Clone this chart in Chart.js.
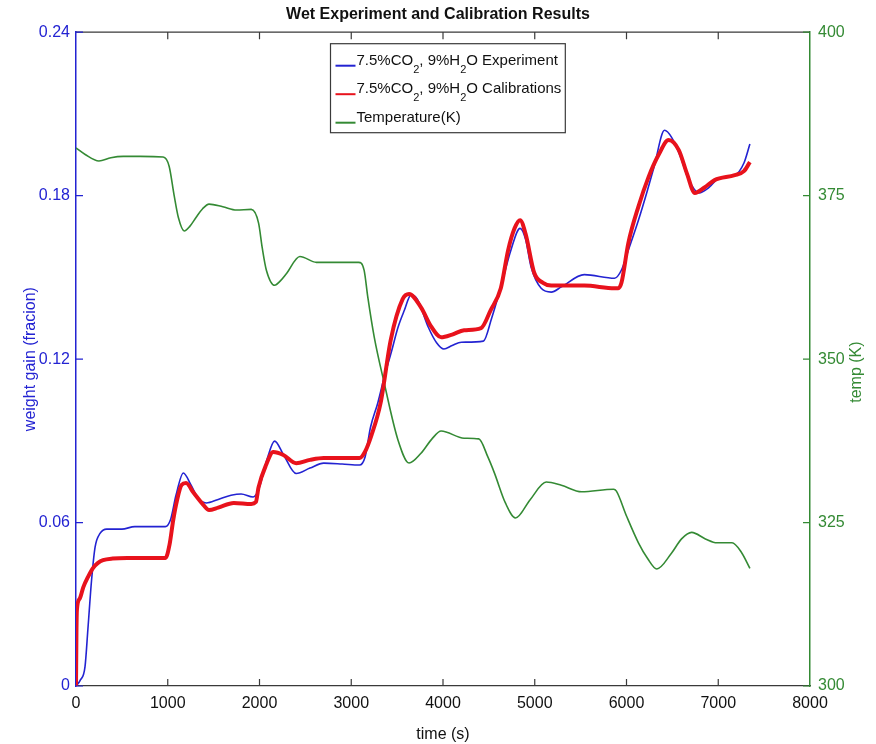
<!DOCTYPE html>
<html>
<head>
<meta charset="utf-8">
<script src="https://cdn.jsdelivr.net/npm/chart.js@4.4.1/dist/chart.umd.min.js"></script>
<style>
  body { margin: 0; background: #fff; }
  #wrap { width: 876px; height: 744px; }
</style>
</head>
<body>
<div id="wrap"><canvas id="chart" width="876" height="744"></canvas></div>
<script>
// weight gain, experiment (blue)
const expTime = [0,44,98,130,170,208,262,335,500,640,800,973,1030,1090,1170,1250,1330,1420,1550,1690,1800,1930,1990,2080,2165,2260,2400,2550,2700,2900,3090,3150,3210,3290,3360,3440,3510,3580,3650,3720,3840,3930,4010,4100,4200,4440,4530,4630,4740,4840,4900,4960,5070,5180,5290,5540,5870,5945,6020,6130,6220,6300,6415,6490,6580,6680,6790,6900,7005,7180,7280,7345];
const expGain = [0,0.002,0.007,0.021,0.039,0.051,0.056,0.0576,0.0576,0.0585,0.0585,0.0585,0.061,0.070,0.0782,0.074,0.069,0.0672,0.0685,0.070,0.0705,0.0694,0.072,0.083,0.0899,0.085,0.078,0.080,0.0818,0.0815,0.0811,0.084,0.095,0.104,0.1134,0.123,0.1317,0.138,0.1435,0.142,0.1317,0.126,0.1237,0.125,0.1262,0.1266,0.135,0.1464,0.160,0.168,0.164,0.1538,0.146,0.1446,0.1465,0.151,0.1497,0.1527,0.160,0.171,0.181,0.1905,0.204,0.2015,0.195,0.1857,0.181,0.183,0.1864,0.1875,0.192,0.199];

// weight gain, calibrations (red)
const calTime = [0,5,10,40,80,130,185,240,295,400,560,800,975,1020,1060,1100,1150,1200,1280,1390,1450,1550,1720,1910,1960,1990,2070,2150,2260,2400,2550,2700,3090,3150,3220,3320,3430,3560,3630,3760,3870,3980,4100,4230,4415,4520,4630,4710,4780,4840,4900,4995,5090,5180,5290,5540,5870,5910,5945,6020,6130,6240,6350,6460,6570,6660,6745,6850,6960,7180,7280,7345];
const calGain = [0,0.020,0.028,0.032,0.0363,0.040,0.0433,0.0452,0.0462,0.0468,0.047,0.047,0.047,0.052,0.061,0.068,0.0738,0.0745,0.071,0.0664,0.0646,0.0655,0.0672,0.0668,0.0675,0.073,0.081,0.0859,0.0848,0.0818,0.083,0.0837,0.0837,0.086,0.092,0.1039,0.127,0.142,0.1439,0.139,0.132,0.128,0.129,0.1306,0.1314,0.138,0.146,0.160,0.168,0.171,0.166,0.1516,0.148,0.147,0.147,0.147,0.146,0.146,0.148,0.1626,0.176,0.1868,0.195,0.2004,0.1967,0.188,0.181,0.183,0.1857,0.1875,0.189,0.1923];

// temperature (green)
const tempTime = [0,100,250,380,515,700,950,1015,1070,1115,1180,1240,1310,1380,1450,1600,1750,1910,1990,2030,2075,2165,2230,2295,2440,2620,2810,3080,3140,3180,3250,3360,3510,3630,3760,3880,3980,4230,4390,4490,4560,4680,4790,4950,5125,5290,5510,5860,5890,6000,6130,6230,6330,6490,6600,6710,6860,6985,7150,7250,7345];
const tempK = [382.3,381.3,380.3,380.8,381.0,381.0,380.9,379.5,375.0,371.7,369.6,370.3,371.7,373.0,373.7,373.3,372.8,372.9,370.8,367,363.6,361.3,362,363.1,365.7,364.8,364.8,364.8,363.6,359.5,353.4,346.3,337.6,334.1,335.6,337.8,339.0,337.9,337.8,335,332.6,328,325.7,328.5,331.2,330.7,329.7,330.1,329.8,326,321.9,319.5,317.9,320.3,322.5,323.5,322.5,321.9,321.9,320.5,318.0];

const timeTicks = [0,1000,2000,3000,4000,5000,6000,7000,8000];
const gainTicks = [0, 0.06, 0.12, 0.18, 0.24];
const gainTickLabels = ['0', '0.06', '0.12', '0.18', '0.24'];
const tempTicks = [300, 325, 350, 375, 400];
const tempTitle = 'temp (K)';

const BLUE = '#2323d2';
const RED = '#e8121c';
const GREEN = '#348a34';
const FONT = '"Liberation Sans", Arial, sans-serif';

function pts(xs, ys) {
    return xs.map((x, i) => ({ x: x, y: ys[i] }));
}

// split "CO_2" style labels into normal / subscript parts
function splitSub(label) {
    const parts = [];
    label.split(/_(\d)/).forEach((t, i) => {
        if (t !== '') parts.push({ t: t, sub: i % 2 === 1 });
    });
    return parts;
}

// MATLAB style ticks pointing into the plot, plus the top frame line
const inwardTicks = {
    id: 'inwardTicks',
    afterDraw(chart) {
        const { ctx, chartArea: a, scales } = chart;
        const len = 7;
        ctx.save();
        ctx.lineWidth = 1.2;
        ctx.strokeStyle = '#3a3a3a';
        ctx.beginPath();
        ctx.moveTo(a.left, a.top);
        ctx.lineTo(a.right, a.top);
        scales.x.ticks.forEach(t => {
            const px = scales.x.getPixelForValue(t.value);
            if (px <= a.left + 1 || px >= a.right - 1) return;
            ctx.moveTo(px, a.bottom); ctx.lineTo(px, a.bottom - len);
            ctx.moveTo(px, a.top); ctx.lineTo(px, a.top + len);
        });
        ctx.stroke();
        ctx.strokeStyle = BLUE;
        ctx.beginPath();
        scales.y.ticks.forEach(t => {
            const py = scales.y.getPixelForValue(t.value);
            ctx.moveTo(a.left, py); ctx.lineTo(a.left + len, py);
        });
        ctx.stroke();
        ctx.strokeStyle = GREEN;
        ctx.beginPath();
        scales.y1.ticks.forEach(t => {
            const py = scales.y1.getPixelForValue(t.value);
            ctx.moveTo(a.right, py); ctx.lineTo(a.right - len, py);
        });
        ctx.stroke();

        // right axis title reads bottom-to-top, like the left one
        ctx.translate(857, (a.top + a.bottom) / 2 + 13);
        ctx.rotate(-Math.PI / 2);
        ctx.fillStyle = GREEN;
        ctx.font = '16px ' + FONT;
        ctx.textAlign = 'center';
        ctx.textBaseline = 'middle';
        ctx.fillText(tempTitle, 0, 0);
        ctx.restore();
    }
};

// boxed legend inside the plot, with subscripts
const boxLegend = {
    id: 'boxLegend',
    afterDraw(chart) {
        const { ctx, chartArea: a } = chart;
        const big = '15px ' + FONT;
        const small = '11px ' + FONT;
        const rows = chart.data.datasets.map(ds => ({ parts: splitSub(ds.label), color: ds.borderColor }));
        ctx.save();
        let maxW = 0;
        rows.forEach(r => {
            let w = 0;
            r.parts.forEach(p => { ctx.font = p.sub ? small : big; w += ctx.measureText(p.t).width; });
            r.w = w;
            maxW = Math.max(maxW, w);
        });
        const boxW = maxW + 30;
        const boxH = 89;
        const left = Math.round((a.left + a.right) / 2 - boxW / 2 + 4) + 0.5;
        const top = a.top + 11.5;
        ctx.fillStyle = '#fff';
        ctx.fillRect(left, top, boxW, boxH);
        ctx.strokeStyle = '#3a3a3a';
        ctx.lineWidth = 1.2;
        ctx.strokeRect(left, top, boxW, boxH);
        rows.forEach((r, i) => {
            const cy = top + 17 + i * 28.5;
            ctx.strokeStyle = r.color;
            ctx.lineWidth = 2;
            ctx.beginPath();
            ctx.moveTo(left + 5, cy + 5);
            ctx.lineTo(left + 25, cy + 5);
            ctx.stroke();
            let x = left + 26;
            ctx.fillStyle = '#111';
            ctx.textBaseline = 'middle';
            r.parts.forEach(p => {
                ctx.font = p.sub ? small : big;
                ctx.fillText(p.t, x, p.sub ? cy + 9 : cy);
                x += ctx.measureText(p.t).width;
            });
        });
        ctx.restore();
    }
};

new Chart(document.getElementById('chart'), {
    type: 'line',
    data: {
        datasets: [
            {
                label: '7.5%CO_2, 9%H_2O Experiment',
                data: pts(expTime, expGain),
                yAxisID: 'y',
                borderColor: BLUE,
                borderWidth: 1.6,
                order: 1
            },
            {
                label: '7.5%CO_2, 9%H_2O Calibrations',
                data: pts(calTime, calGain),
                yAxisID: 'y',
                borderColor: RED,
                borderWidth: 4,
                order: 0
            },
            {
                label: 'Temperature(K)',
                data: pts(tempTime, tempK),
                yAxisID: 'y1',
                borderColor: GREEN,
                borderWidth: 1.6,
                order: 2
            }
        ]
    },
    options: {
        responsive: false,
        animation: false,
        elements: {
            point: { radius: 0 },
            line: { cubicInterpolationMode: 'monotone', fill: false }
        },
        layout: { padding: 0 },
        plugins: {
            legend: { display: false },
            tooltip: { enabled: false },
            title: {
                display: true,
                text: 'Wet Experiment and Calibration Results',
                color: '#111',
                font: { family: FONT, size: 16, weight: 'bold' },
                padding: { top: 5, bottom: 8 }
            }
        },
        scales: {
            x: {
                type: 'linear',
                min: 0,
                max: 8000,
                afterBuildTicks: s => { s.ticks = timeTicks.map(v => ({ value: v })); },
                afterFit: s => { s.height = 58; },
                grid: { drawOnChartArea: false, drawTicks: false },
                border: { display: true, color: '#3a3a3a', width: 1.2 },
                ticks: { color: '#111', font: { family: FONT, size: 16 }, padding: 8, maxRotation: 0,
                         callback: v => String(v) },
                title: { display: true, text: 'time (s)', color: '#111',
                         font: { family: FONT, size: 16 }, padding: { top: 7, bottom: 0 } }
            },
            y: {
                type: 'linear',
                position: 'left',
                min: 0,
                max: 0.24,
                afterBuildTicks: s => { s.ticks = gainTicks.map(v => ({ value: v })); },
                afterFit: s => { s.width = 76; },
                grid: { drawOnChartArea: false, drawTicks: false },
                border: { display: true, color: BLUE, width: 1.5 },
                ticks: { color: BLUE, font: { family: FONT, size: 16 }, padding: 6,
                         callback: (v, i) => gainTickLabels[i] },
                title: { display: true, text: 'weight gain (fracion)', color: BLUE,
                         font: { family: FONT, size: 16 }, padding: { top: 21, bottom: 0 } }
            },
            y1: {
                type: 'linear',
                position: 'right',
                min: 300,
                max: 400,
                afterBuildTicks: s => { s.ticks = tempTicks.map(v => ({ value: v })); },
                afterFit: s => { s.width = 66; },
                grid: { drawOnChartArea: false, drawTicks: false },
                border: { display: true, color: GREEN, width: 1.5 },
                ticks: { color: GREEN, font: { family: FONT, size: 16 }, padding: 8,
                         callback: v => String(v) }
            }
        }
    },
    plugins: [inwardTicks, boxLegend]
});
</script>
</body>
</html>
